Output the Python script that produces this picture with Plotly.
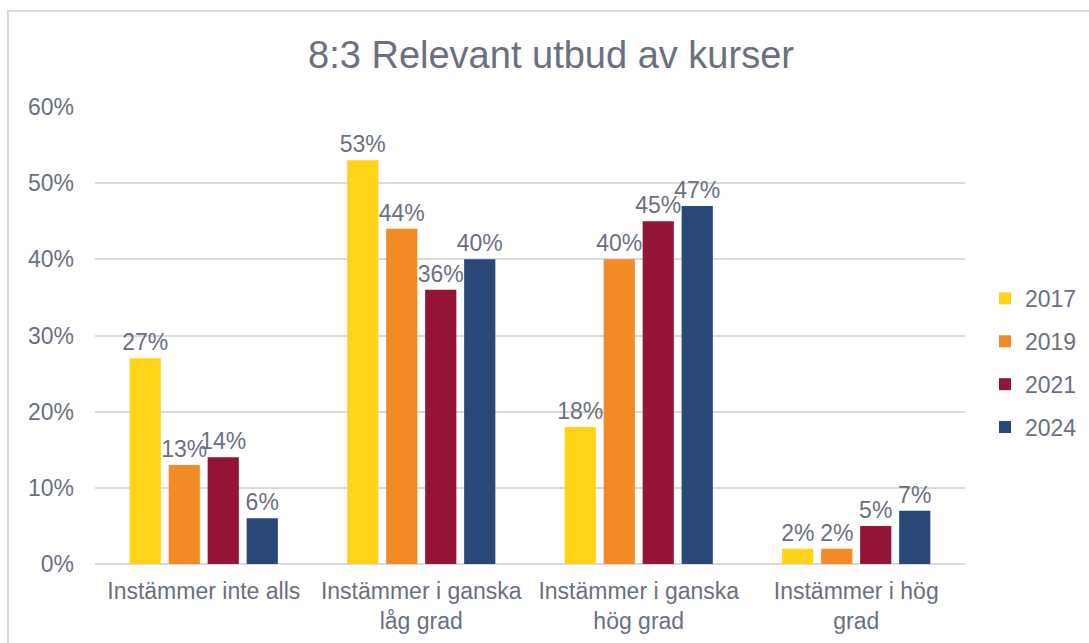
import plotly.graph_objects as go

categories = ["Instämmer inte alls", "Instämmer i ganska<br>låg grad",
              "Instämmer i ganska<br>hög grad", "Instämmer i hög<br>grad"]
years = ["2017", "2019", "2021", "2024"]
v2017 = [0.27, 0.53, 0.18, 0.02]
v2019 = [0.13, 0.44, 0.40, 0.02]
v2021 = [0.14, 0.36, 0.45, 0.05]
v2024 = [0.06, 0.40, 0.47, 0.07]
colors = ["#FFD317", "#F28A25", "#951539", "#284878"]
tick_vals = [0, 0.1, 0.2, 0.3, 0.4, 0.5, 0.6]

series = [v2017, v2019, v2021, v2024]
txt = "#6B7080"
font_family = "Liberation Sans, Arial, sans-serif"

W, H = 1089, 643
L, R, T, B = 95, 124, 107, 79
PW, PH = W - L - R, H - T - B

fig = go.Figure()
for name, vals, col in zip(years, series, colors):
    fig.add_trace(go.Bar(
        x=categories, y=vals, name=name, legendgroup=name,
        marker=dict(color=col, line=dict(width=0)),
        text=[f"{round(v*100)}%" for v in vals],
        textposition="outside", constraintext="none", cliponaxis=False,
        textfont=dict(size=23, color=txt, family=font_family),
    ))

fig.update_layout(
    width=W, height=H,
    paper_bgcolor="white", plot_bgcolor="white",
    margin=dict(l=L, r=R, t=T, b=B, autoexpand=False),
    barmode="group", bargap=0.283, bargroupgap=0.2,
    font=dict(family=font_family, color=txt, size=23),
    title=dict(text="8:3 Relevant utbud av kurser", x=551 / W, xanchor="center",
               y=1 - 55 / H, yanchor="middle",
               font=dict(size=38, color=txt, family=font_family)),
    legend=dict(x=(985 - L) / PW, xanchor="left", y=0.44, yanchor="middle",
                tracegroupgap=10, font=dict(size=23, color=txt),
                bgcolor="rgba(0,0,0,0)"),
    xaxis=dict(showgrid=False, showline=False, ticks="",
               ticklabelstandoff=11,
               tickfont=dict(size=23, color=txt), automargin=False),
    yaxis=dict(range=[0, 0.6], tickvals=tick_vals, tickformat=".0%",
               showgrid=True, gridcolor="#D9D9DE", gridwidth=1.5,
               zeroline=True, zerolinecolor="#D9D9DE", zerolinewidth=2,
               showline=False, ticks="", ticklabelstandoff=20,
               tickfont=dict(size=23, color=txt), automargin=False),
    shapes=[dict(type="rect", xref="paper", yref="paper",
                 x0=(8 - L) / PW, x1=(W + 20 - L) / PW,
                 y0=-(B + 20) / PH, y1=(H - B - 11) / PH,
                 line=dict(color="#D9D9DE", width=2), layer="below")],
)

fig.write_html(
    "out.html",
    config={"displayModeBar": False},
    post_script="document.body.style.margin='0';document.body.style.overflow='hidden';",
)
